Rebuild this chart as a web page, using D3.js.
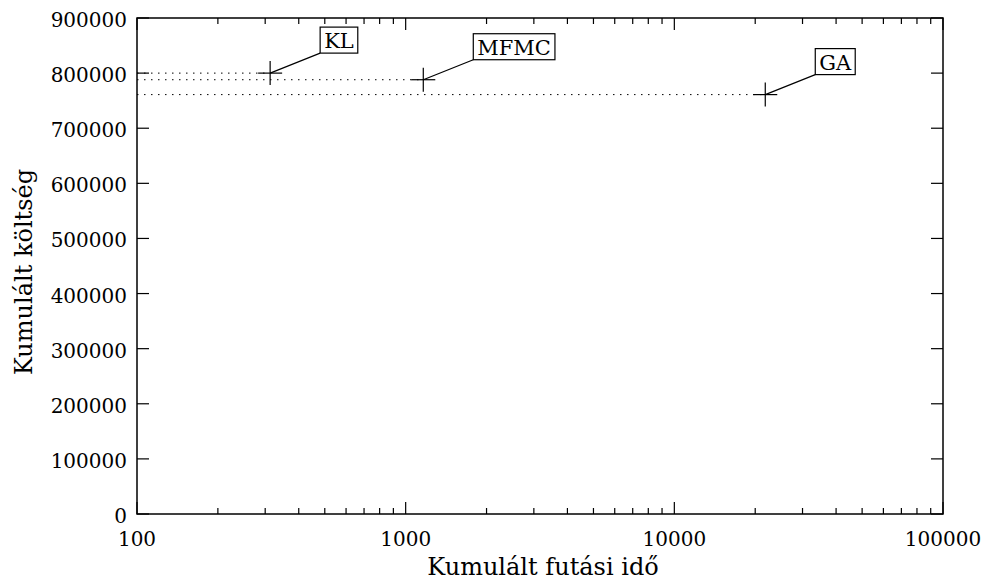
<!DOCTYPE html>
<html lang="hu">
<head>
<meta charset="UTF-8">
<title>Kumulált költség</title>
<script src="https://d3js.org/d3.v7.min.js"></script>
<style>
body { margin: 0; background: #fff; }
</style>
</head>
<body>
<script>
// data
var names = ["KL", "MFMC", "GA"];
var times = [313, 1163, 21800];
var costs = [800000, 788000, 761000];
var xTicks = [100, 1000, 10000, 100000];
var yTicks = [0, 100000, 200000, 300000, 400000, 500000, 600000, 700000, 800000, 900000];

var width = 984, height = 581;
var pL = 137, pR = 943, pT = 18, pB = 514;

var svg = d3.select("body").append("svg")
  .attr("width", width)
  .attr("height", height)
  .style("font-family", "DejaVu Serif");

var x = d3.scaleLog().domain([100, 100000]).range([pL, pR]);
var y = d3.scaleLinear().domain([0, 900000]).range([pB, pT]);

var minor = [];
for (var d = 100; d < 100000; d *= 10)
  for (var k = 2; k <= 9; k++) minor.push(d * k);

var g = svg.append("g").attr("stroke", "#000").attr("stroke-width", 1.2);

// ticks on all four sides, pointing in
xTicks.forEach(function(v) {
  g.append("line").attr("x1", x(v)).attr("x2", x(v)).attr("y1", pB).attr("y2", pB - 12);
  g.append("line").attr("x1", x(v)).attr("x2", x(v)).attr("y1", pT).attr("y2", pT + 12);
});
minor.forEach(function(v) {
  g.append("line").attr("x1", x(v)).attr("x2", x(v)).attr("y1", pB).attr("y2", pB - 6);
  g.append("line").attr("x1", x(v)).attr("x2", x(v)).attr("y1", pT).attr("y2", pT + 6);
});
yTicks.forEach(function(v) {
  g.append("line").attr("x1", pL).attr("x2", pL + 12).attr("y1", y(v)).attr("y2", y(v));
  g.append("line").attr("x1", pR).attr("x2", pR - 12).attr("y1", y(v)).attr("y2", y(v));
});

svg.append("rect")
  .attr("x", pL).attr("y", pT)
  .attr("width", pR - pL).attr("height", pB - pT)
  .attr("fill", "none").attr("stroke", "#000").attr("stroke-width", 1.5);

svg.selectAll(".xl").data(xTicks).enter().append("text")
  .attr("x", function(d) { return x(d); })
  .attr("y", 546)
  .attr("text-anchor", "middle")
  .attr("font-size", 20)
  .text(function(d) { return d; });

svg.selectAll(".yl").data(yTicks).enter().append("text")
  .attr("x", 127)
  .attr("y", function(d) { return y(d) + 9; })
  .attr("text-anchor", "end")
  .attr("font-size", 20)
  .text(function(d) { return d; });

svg.append("text")
  .attr("x", (pL + pR) / 2 + 3).attr("y", 575)
  .attr("text-anchor", "middle").attr("font-size", 24)
  .text("Kumulált futási idő");

svg.append("text")
  .attr("transform", "translate(32," + ((pT + pB) / 2 + 6) + ") rotate(-90)")
  .attr("text-anchor", "middle").attr("font-size", 24)
  .text("Kumulált költség");

// dotted guide lines to the left axis
svg.selectAll(".guide").data(times).enter().append("line")
  .attr("x1", pL).attr("x2", function(d) { return x(d); })
  .attr("y1", function(d, i) { return y(costs[i]); })
  .attr("y2", function(d, i) { return y(costs[i]); })
  .attr("stroke", "#000").attr("stroke-width", 1)
  .attr("stroke-dasharray", "1.5,5.5");

// crosses, leaders and boxed labels
times.forEach(function(t, i) {
  var px = x(t), py = y(costs[i]);
  svg.append("line").attr("x1", px - 12).attr("x2", px + 12).attr("y1", py).attr("y2", py)
    .attr("stroke", "#000").attr("stroke-width", 1.2);
  svg.append("line").attr("x1", px).attr("x2", px).attr("y1", py - 12).attr("y2", py + 12)
    .attr("stroke", "#000").attr("stroke-width", 1.2);
  var bx = px + 50, by = py - 20;
  svg.append("line").attr("x1", px).attr("y1", py).attr("x2", bx).attr("y2", by)
    .attr("stroke", "#000").attr("stroke-width", 1.2);
  var box = svg.append("rect")
    .attr("x", bx).attr("y", by - 26).attr("height", 26)
    .attr("fill", "#fff").attr("stroke", "#000").attr("stroke-width", 1.2);
  var txt = svg.append("text")
    .attr("x", bx + 4).attr("y", by - 5)
    .attr("font-size", 21)
    .text(names[i]);
  box.attr("width", txt.node().getComputedTextLength() + 8);
});
</script>
</body>
</html>
